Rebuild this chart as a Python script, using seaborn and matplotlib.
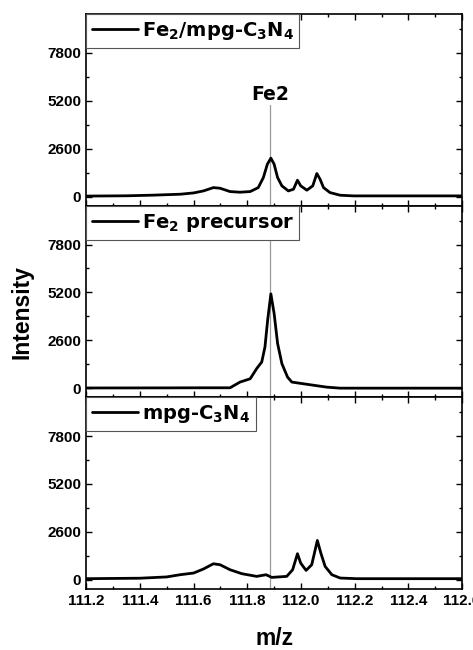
import matplotlib
matplotlib.use("Agg")
import matplotlib.pyplot as plt
from matplotlib.ticker import MultipleLocator, FixedLocator
import seaborn as sns
import pandas as pd

# ---- data ----
x_fe2mpg = [111.20, 111.35, 111.45, 111.550, 111.600, 111.637, 111.674, 111.699, 111.736,
            111.773, 111.811, 111.841, 111.860, 111.875, 111.888, 111.900, 111.913,
            111.929, 111.953, 111.972, 111.987, 111.999, 112.022, 112.044, 112.059,
            112.071, 112.084, 112.108, 112.146, 112.196, 112.40, 112.60]
y_fe2mpg = [30, 45, 80, 130, 200, 310, 490, 455, 275,
            240, 275, 490, 1035, 1765, 2090, 1765, 1035,
            585, 310, 400, 890, 585, 350, 585, 1255,
            950, 490, 220, 75, 40, 40, 40]

x_prec = [111.20, 111.50, 111.624, 111.736, 111.773, 111.811, 111.835, 111.854, 111.866,
          111.876, 111.888, 111.900, 111.913, 111.929, 111.950, 111.966, 112.034,
          112.096, 112.146, 112.40, 112.60]
y_prec = [10, 15, 20, 20, 330, 510, 1060, 1420, 2240,
          3700, 5120, 4060, 2425, 1330, 600, 330, 185,
          55, 0, 0, 0]

x_mpg = [111.20, 111.40, 111.50, 111.550, 111.600, 111.637, 111.674, 111.699, 111.736,
         111.780, 111.835, 111.870, 111.891, 111.947, 111.969, 111.987, 111.999,
         112.019, 112.040, 112.053, 112.061, 112.074, 112.090, 112.115, 112.146,
         112.208, 112.40, 112.60]
y_mpg = [55, 80, 150, 270, 360, 580, 865, 810, 540,
         325, 180, 270, 125, 180, 540, 1410, 900,
         505, 810, 1625, 2130, 1445, 720, 270, 90,
         55, 55, 55]

labels = ["Fe$_2$/mpg-C$_3$N$_4$", "Fe$_2$ precursor", "mpg-C$_3$N$_4$"]
series = [(x_fe2mpg, y_fe2mpg), (x_prec, y_prec), (x_mpg, y_mpg)]
y_ticks = [0, 2600, 5200, 7800]
x_ticks = [111.2, 111.4, 111.6, 111.8, 112.0, 112.2, 112.4, 112.6]
fe2_pos = 111.885

sns.set_theme(style="ticks")
plt.rcParams['font.family'] = ['Liberation Sans', 'DejaVu Sans']
plt.rcParams['font.weight'] = 'bold'
plt.rcParams['text.color'] = 'black'
plt.rcParams['xtick.color'] = 'black'
plt.rcParams['ytick.color'] = 'black'
plt.rcParams['axes.labelcolor'] = 'black'
plt.rcParams['mathtext.fontset'] = 'dejavusans'
plt.rcParams['mathtext.default'] = 'bf'

fig, axes = plt.subplots(3, 1, figsize=(4.73, 6.5), dpi=100, sharex=True)
fig.subplots_adjust(hspace=0, left=0.182, right=0.977, top=0.978, bottom=0.094)

for i, (ax, (xs, ys), lab) in enumerate(zip(axes, series, labels)):
    df = pd.DataFrame({"m/z": xs, "Intensity": ys})
    sns.lineplot(data=df, x="m/z", y="Intensity", ax=ax, color="black", lw=2.0, label=lab)
    ax.set_xlim(111.2, 112.6)
    ax.set_ylim(-500, 9900)
    ax.yaxis.set_major_locator(FixedLocator(y_ticks))
    ax.yaxis.set_minor_locator(MultipleLocator(1300))
    ax.xaxis.set_major_locator(FixedLocator(x_ticks))
    ax.xaxis.set_minor_locator(MultipleLocator(0.1))
    ax.tick_params(which="both", direction="in", top=True, right=True, width=1.0, color="black")
    ax.tick_params(which="major", length=4.5, labelsize=11)
    ax.tick_params(which="minor", length=2.5)
    ax.set_xlabel("")
    ax.set_ylabel("")
    for sp in ax.spines.values():
        sp.set_linewidth(1.2)
        sp.set_color("black")
    for t in ax.get_yticklabels() + ax.get_xticklabels():
        t.set_fontweight("bold")
    leg = ax.legend(loc="upper left", borderaxespad=0, handlelength=2.35,
                    prop=dict(family="DejaVu Sans", weight="bold", size=14),
                    handletextpad=0.2, fancybox=False, framealpha=1,
                    borderpad=0.3, edgecolor="#555555")
    leg.get_frame().set_linewidth(0.8)
    if i == 0:
        ax.axvline(fe2_pos, ymin=0, ymax=(4950 + 500) / 10400, color="#999999", lw=0.9, zorder=0)
        ax.text(fe2_pos, 5050, "Fe2", ha="center", va="bottom", fontsize=13.5,
                fontweight="bold", family="DejaVu Sans")
    else:
        ax.axvline(fe2_pos, color="#999999", lw=0.9, zorder=0)

axes[-1].set_xticklabels([f"{v:.1f}" for v in x_ticks], fontweight="bold")
fig.text(0.047, 0.52, "Intensity", rotation=90, ha="center", va="center", fontsize=16.5, fontweight="bold")
fig.text(0.58, 0.018, "m/z", ha="center", va="center", fontsize=16.5, fontweight="bold")

fig.savefig("out.png", dpi=100)
